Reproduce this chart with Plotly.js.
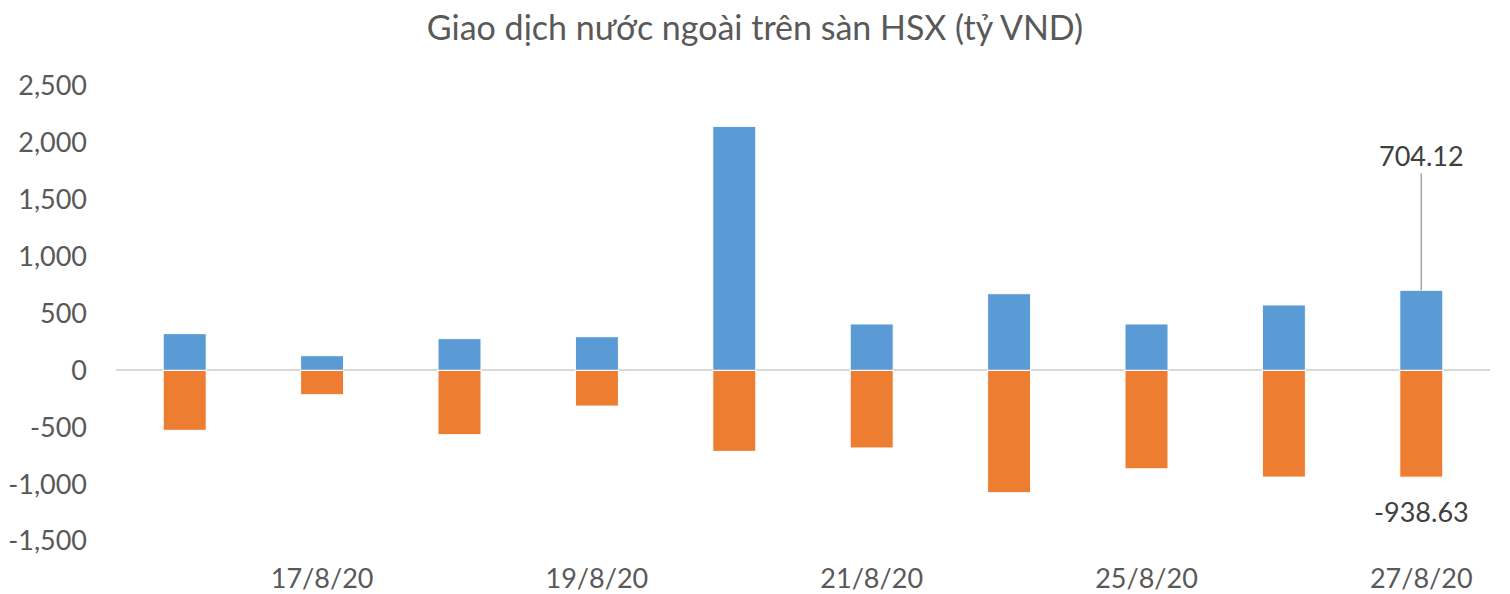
<!DOCTYPE html>
<html>
<head>
<meta charset="utf-8">
<script src="https://cdn.plot.ly/plotly-3.0.1.min.js"></script>
<style>html,body{margin:0;padding:0;background:#fff;}#chart{width:1510px;height:594px;}</style>
</head>
<body>
<div id="chart"></div>
<script>
const categories = ['14/8/20','17/8/20','18/8/20','19/8/20','20/8/20','21/8/20','24/8/20','25/8/20','26/8/20','27/8/20'];
const buyValues  = [323, 129, 279, 296, 2145, 408, 674, 408, 575, 704.12];
const sellValues = [-527, -214, -565, -314, -712, -682, -1075, -865, -938, -938.63];
const tickLabels = ['17/8/20','19/8/20','21/8/20','25/8/20','27/8/20'];
const yTickValues = [-1500, -1000, -500, 0, 500, 1000, 1500, 2000, 2500];
const yTickLabels = ['-1,500','-1,000','-500','0','500','1,000','1,500','2,000','2,500'];
const titleText = 'Giao dịch nước ngoài trên sàn HSX (tỷ VND)';

const FONT = 'Lato, "Open Sans", sans-serif';
const last = categories.length - 1;

const traces = [
  {type:'bar', name:'Mua', x:categories, y:buyValues, width:0.313,
   marker:{color:'#5b9bd5', line:{color:'#ffffff', width:1}}, hoverinfo:'x+y'},
  {type:'bar', name:'Bán', x:categories, y:sellValues, width:0.313,
   marker:{color:'#ed7d31', line:{color:'#ffffff', width:1}}, hoverinfo:'x+y'}
];

const layout = {
  width:1510, height:594,
  margin:{l:116, r:20, t:86, b:53},
  paper_bgcolor:'#ffffff', plot_bgcolor:'#ffffff',
  barmode:'relative',
  showlegend:false,
  font:{family:FONT, color:'#595959', size:27},
  title:{text:titleText, x:0.5, xref:'container', xanchor:'center', y:0.953, yref:'container', yanchor:'middle',
         font:{family:FONT, size:34, color:'#595959'}},
  xaxis:{type:'category', tickvals:tickLabels, ticktext:tickLabels, showgrid:false, showline:false,
         zeroline:false, ticks:'', tickfont:{size:27, color:'#595959'}, ticklabelstandoff:19},
  yaxis:{range:[-1500,2500], tickmode:'array', tickvals:yTickValues, ticktext:yTickLabels,
         showgrid:false, showline:false,
         zeroline:true, zerolinecolor:'#d9d9d9', zerolinewidth:2, ticks:'',
         tickfont:{size:27, color:'#595959'}, ticklabelstandoff:28},
  annotations:[
    {x:categories[last], y:buyValues[last], xref:'x', yref:'y',
     text:buyValues[last].toFixed(2), showarrow:true, arrowhead:0, arrowwidth:1.5,
     arrowcolor:'#a6a6a6', ax:0, ay:-135, standoff:0,
     font:{family:FONT, size:27, color:'#404040'}},
    {x:categories[last], y:sellValues[last], xref:'x', yref:'y',
     text:sellValues[last].toFixed(2), showarrow:false, yanchor:'top', yshift:-16,
     font:{family:FONT, size:27, color:'#404040'}}
  ]
};

Plotly.newPlot('chart', traces, layout, {displayModeBar:false, staticPlot:true});
</script>
</body>
</html>
